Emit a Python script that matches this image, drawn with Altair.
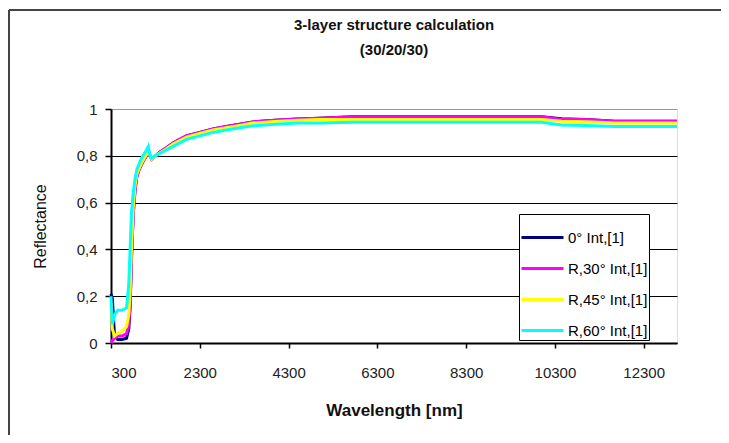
import altair as alt
import pandas as pd

wavelength = [300, 330, 380, 450, 550, 650, 700, 730, 760, 800, 840, 880, 930, 990,
              1050, 1100, 1140, 1180, 1215, 1300, 1400, 1550, 1700, 1850, 2000, 2300,
              2600, 2900, 3200, 3500, 4000, 4500, 5000, 5750, 7000, 8500, 10000, 10450,
              11000, 11650, 12300, 13050]

r0 = [0.21, 0.19, 0.03, 0.015, 0.015, 0.02, 0.06, 0.15, 0.35, 0.55, 0.65, 0.71, 0.74, 0.765,
      0.785, 0.80, 0.82, 0.80, 0.785, 0.80, 0.815, 0.835, 0.855, 0.87, 0.885, 0.90,
      0.915, 0.925, 0.935, 0.945, 0.952, 0.957, 0.96, 0.967, 0.967, 0.967, 0.967, 0.958,
      0.955, 0.948, 0.948, 0.948]

r30 = [0.0, 0.01, 0.02, 0.03, 0.03, 0.04, 0.08, 0.17, 0.36, 0.55, 0.65, 0.71, 0.74, 0.765,
       0.785, 0.80, 0.82, 0.80, 0.785, 0.80, 0.815, 0.835, 0.855, 0.87, 0.885, 0.90,
       0.915, 0.925, 0.935, 0.945, 0.952, 0.957, 0.96, 0.967, 0.967, 0.967, 0.967, 0.955,
       0.955, 0.948, 0.948, 0.948]

r45 = [0.17, 0.06, 0.03, 0.04, 0.05, 0.07, 0.12, 0.22, 0.40, 0.58, 0.67, 0.72, 0.745, 0.77,
       0.79, 0.805, 0.825, 0.80, 0.785, 0.80, 0.812, 0.83, 0.85, 0.865, 0.88, 0.895,
       0.91, 0.92, 0.93, 0.94, 0.947, 0.952, 0.955, 0.955, 0.955, 0.955, 0.955, 0.948,
       0.945, 0.94, 0.94, 0.94]

r60 = [0.20, 0.08, 0.12, 0.14, 0.14, 0.15, 0.25, 0.40, 0.55, 0.64, 0.70, 0.74, 0.765, 0.79,
       0.81, 0.825, 0.84, 0.80, 0.79, 0.80, 0.81, 0.825, 0.84, 0.855, 0.87, 0.885,
       0.90, 0.91, 0.92, 0.928, 0.935, 0.94, 0.94, 0.943, 0.943, 0.943, 0.943, 0.932,
       0.93, 0.925, 0.925, 0.925]

series_names = ["0° Int,[1]", "R,30° Int,[1]", "R,45° Int,[1]", "R,60° Int,[1]"]
series_colors = ["#000080", "#FF00FF", "#FFFF00", "#00FFFF"]
x_ticks = [300, 2300, 4300, 6300, 8300, 10300, 12300]
y_ticks = [0, 0.2, 0.4, 0.6, 0.8, 1.0]

rows = []
for name, vals in zip(series_names, [r0, r30, r45, r60]):
    for i, (w, v) in enumerate(zip(wavelength, vals)):
        rows.append({"Wavelength": w, "Reflectance": v, "Series": name, "order": i})
df = pd.DataFrame(rows)

FONT = "Liberation Sans"

lines = alt.Chart(df).mark_line(strokeWidth=3, interpolate="linear").encode(
    x=alt.X("Wavelength:Q",
            scale=alt.Scale(domain=[300, 13050], nice=False, zero=False),
            axis=alt.Axis(values=x_ticks, format="d", title="Wavelength [nm]",
                          grid=False, domainColor="black", domainWidth=2,
                          tickColor="black", tickSize=5, tickWidth=1.5,
                          labelFontSize=15, labelColor="#222", labelPadding=17,
                          labelFont=FONT, titleFont=FONT, titleFontSize=17,
                          titleFontWeight="bold", titlePadding=22, titleColor="#111")),
    y=alt.Y("Reflectance:Q",
            scale=alt.Scale(domain=[0, 1], nice=False),
            axis=alt.Axis(values=y_ticks, title="Reflectance",
                          labelExpr="datum.value == 0 ? '0' : datum.value == 1 ? '1' : replace(format(datum.value, '.1f'), '.', ',')",
                          grid=True,
                          gridColor={"condition": {"test": "datum.value >= 0.99", "value": "#999999"}, "value": "black"},
                          gridWidth=1.2,
                          domainColor="black", domainWidth=2,
                          tickColor="black", tickSize=6, tickWidth=1.5,
                          labelFontSize=15, labelColor="#222", labelPadding=8,
                          labelFont=FONT, titleFont=FONT, titleFontSize=16,
                          titleFontWeight="normal", titlePadding=28, titleColor="#111")),
    color=alt.Color("Series:N",
                    scale=alt.Scale(domain=series_names, range=series_colors),
                    legend=alt.Legend(title=None, orient="none", legendX=408, legendY=105,
                                      fillColor="white", strokeColor="black",
                                      padding=1, symbolType="stroke", symbolSize=1764,
                                      symbolStrokeWidth=3, labelFontSize=15,
                                      labelFont=FONT, labelColor="black",
                                      rowPadding=0, labelOffset=3)),
    order=alt.Order("order:Q"),
    detail="Series:N",
)

frame_v = alt.Chart(pd.DataFrame({"a": [0]})).mark_rule(color="#444", strokeWidth=2).encode(
    x=alt.value(-102), y=alt.value(-99), y2=alt.value(340))
frame_h = alt.Chart(pd.DataFrame({"a": [0]})).mark_rule(color="#444", strokeWidth=2).encode(
    x=alt.value(-102), x2=alt.value(620), y=alt.value(-99))

chart = alt.layer(frame_v, frame_h, lines).properties(
    width=566, height=234,
    title=alt.TitleParams(text=["3-layer structure calculation", "(30/20/30)"],
                          font=FONT, fontSize=15, fontWeight="bold", color="#111",
                          anchor="middle", offset=-49, lineHeight=25),
    autosize=alt.AutoSizeParams(type="none"),
    padding={"left": 103, "top": 101, "right": 44, "bottom": 92},
).configure_view(stroke="#999999", strokeWidth=2).configure(background="white")

chart.save("out.html", embed_options={"renderer": "svg", "actions": False})
